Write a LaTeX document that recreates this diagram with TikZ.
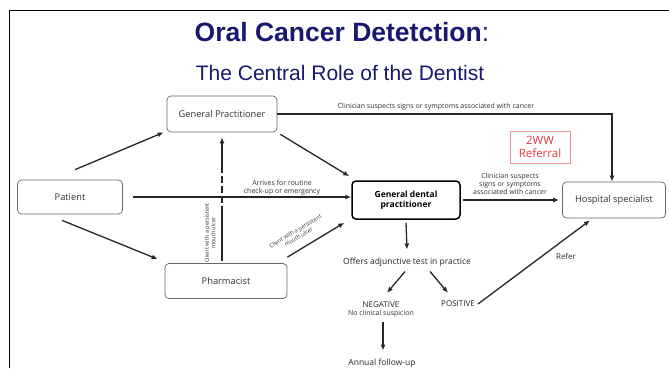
\documentclass[tikz,border=0pt]{standalone}
\usepackage{fontspec}
\setmainfont{Open Sans}
\newfontfamily\titlefont{Liberation Sans}
\usetikzlibrary{arrows.meta}
\definecolor{navy}{RGB}{24,24,110}
\definecolor{wwred}{RGB}{225,60,60}
\definecolor{wwbox}{RGB}{235,150,150}
\begin{document}
\begin{tikzpicture}[x=1pt,y=-1pt,
  box/.style={draw=black!60,line width=0.7pt,rounded corners=4pt,font=\fontsize{9.3}{10}\selectfont,align=center,inner sep=0pt,text=black!80},
  gdpbox/.style={draw=black,line width=1.5pt,rounded corners=4pt,font=\bfseries\fontsize{8.5}{10}\selectfont,align=center,inner sep=0pt},
  arr/.style={draw=black!85,line width=1.3pt,-{Latex[length=6pt,width=5pt]}},
  lbl/.style={font=\fontsize{7}{8}\selectfont,align=center,text=black!80,inner sep=0pt},
  slbl/.style={font=\fontsize{5.6}{6.5}\selectfont,align=center,text=black!80,inner sep=0pt},
  txt/.style={font=\fontsize{8.5}{9}\selectfont,align=center,text=black!85,inner sep=1pt}]
\useasboundingbox (0,0) rectangle (669,368);
\fill[white] (0,0) rectangle (669,368);
\draw[line width=1pt] (9,368) -- (9,10) -- (669,10);
% titles
\node[font=\titlefont\fontsize{26.5}{28}\selectfont,text=navy] (t1) at (342,32) {\textbf{Oral Cancer Detetction}:};
\node[font=\titlefont\fontsize{21}{24}\selectfont,text=navy] (t2) at (340,73) {The Central Role of the Dentist};
% boxes
\node[box,minimum width=110,minimum height=36] (gp) at (222,114) {General Practitioner};
\node[box,minimum width=105,minimum height=34] (pt) at (70,197) {Patient};
\node[box,minimum width=122,minimum height=35] (ph) at (226,281) {Pharmacist};
\node[gdpbox,minimum width=108,minimum height=38] (gdp) at (406,200) {General dental\\practitioner};
\node[box,minimum width=103,minimum height=36] (hs) at (614,200) {Hospital specialist};
\node[draw=wwbox,line width=0.7pt,minimum width=60,minimum height=32,text=wwred,font=\fontsize{11.5}{12.5}\selectfont,align=center,inner sep=0pt] (ww) at (540,147) {2WW\\Referral};
% text nodes
\node[txt] (off) at (407,262) {Offers adjunctive test in practice};
\node[txt,font=\fontsize{8}{9}\selectfont] (neg) at (381,305) {NEGATIVE};
\node[lbl] (nocl) at (381,314) {No clinical suspicion};
\node[txt,font=\fontsize{8}{9}\selectfont] (pos) at (458,304) {POSITIVE};
\node[txt] (ann) at (382,363) {Annual follow-up};
% labels
\node[lbl] (l1) at (436,107) {Clinician suspects signs or symptoms associated with cancer};
\node[lbl] (l2) at (282,188) {Arrives for routine\\check-up or emergency};
\node[lbl] (l3) at (510,184) {Clinician suspects\\signs or symptoms\\associated with cancer};
\node[slbl,rotate=90] (l4) at (210,233) {Client with a persistent\\mouth ulcer};
\node[slbl,rotate=31] (l5) at (297,234) {Client with a persistent\\mouth ulcer};
\node[lbl,font=\fontsize{8}{9}\selectfont] (l6) at (566,256) {Refer};
% connectors
\draw[arr] ([shift={(5,-10)}]pt.north) -- ([shift={(-3,0)}]gp.south west);
\draw[arr] ([xshift=10]pt.east) -- (pt.east -| gdp.west);
\draw[arr] ([shift={(-8,6)}]pt.south) -- ([shift={(-7,-4)}]ph.north west);
\draw[arr] ([shift={(3,2)}]gp.south east) -- ([shift={(-2,-4)}]gdp.north west);
\draw[arr] (gp.east) -| ([xshift=-2]hs.north);
\coordinate (v0) at ([shift={(-4,-2)}]ph.north);
\coordinate (v1) at (v0 |- 0,213);
\coordinate (v2) at (v0 |- 0,172);
\draw[draw=black!85,line width=1.1pt] (v0) -- (v1);
\draw[draw=black!85,line width=1.1pt,dash pattern=on 7pt off 3pt] (v1) -- (v2);
\draw[arr,line width=1.1pt] (v2) -- ([shift={(0,5)}]gp.south -| v0);
\draw[arr] ([shift={(0,-6)}]ph.north east) -- ([shift={(-7,3)}]gdp.south west);
\draw[arr] ([xshift=2]gdp.east) -- ([xshift=-3]gdp.east -| hs.west);
\draw[arr] ([shift={(0,3)}]gdp.south) -- ([shift={(0,-7)}]off.north);
\draw[arr] ([shift={(-2,4)}]off.south) -- ([shift={(6,-8)}]neg.north);
\draw[arr] ([shift={(23,4)}]off.south) -- ([shift={(-10,-7)}]pos.north);
\draw[arr] ([xshift=2]pos.east) -- ([shift={(-24,2)}]hs.south);
\draw[arr] ([shift={(2,4)}]nocl.south) -- ([shift={(1,-7)}]ann.north);
\end{tikzpicture}
\end{document}
